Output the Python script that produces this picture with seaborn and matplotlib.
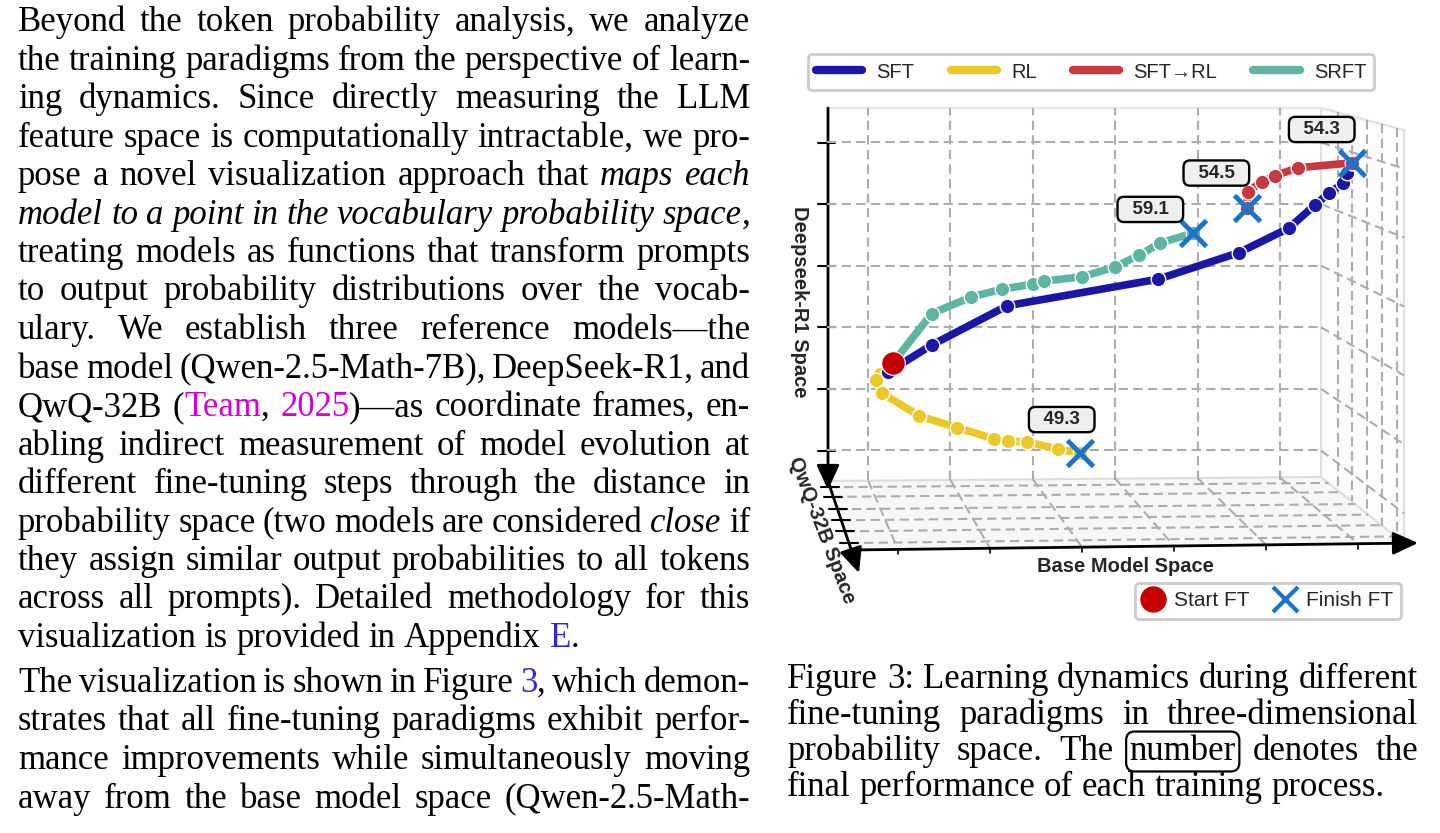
import re
import matplotlib
matplotlib.use("Agg")
import matplotlib.pyplot as plt
from matplotlib.lines import Line2D
from matplotlib.patches import Polygon
import seaborn as sns

# ---- data (back-wall units: Base Model Space x, Deepseek-R1 Space y) ----
series_names = ["SFT", "RL", "SFT→RL", "SRFT"]
series_colors = ["#1b17a6", "#ebc92b", "#c8383f", "#5eb5a3"]

sft_x = [0.24, 0.77, 1.69, 3.52, 4.50, 5.11, 5.43, 5.60, 5.77, 5.81, 5.88]
sft_y = [1.27, 1.71, 2.35, 2.78, 3.21, 3.61, 3.99, 4.18, 4.34, 4.50, 4.67]

rl_x = [0.30, 0.14, 0.09, 0.17, 0.62, 1.08, 1.53, 1.70, 1.93, 2.31, 2.57]
rl_y = [1.42, 1.24, 1.14, 0.93, 0.56, 0.37, 0.19, 0.15, 0.14, 0.02, -0.04]

sftrl_x = [4.60, 4.61, 4.78, 4.94, 5.22, 5.88]
sftrl_y = [3.94, 4.20, 4.36, 4.46, 4.59, 4.67]

srft_x = [0.30, 0.77, 1.25, 1.63, 2.00, 2.14, 2.60, 3.00, 3.29, 3.55, 3.95]
srft_y = [1.42, 2.22, 2.49, 2.62, 2.70, 2.75, 2.82, 2.98, 3.17, 3.37, 3.53]

start_x = [0.30]
start_y = [1.42]
finish_x = [3.95, 4.60, 5.88, 2.57]
finish_y = [3.53, 3.94, 4.67, -0.04]
finish_scores = ["59.1", "54.5", "54.3", "49.3"]

axis_names = ["Base Model Space", "Deepseek-R1 Space", "QwQ-32B Space"]
marker_names = ["Start FT", "Finish FT"]

body_lines = [
    "Beyond the token probability analysis, we analyze",
    "the training paradigms from the perspective of learn-",
    "ing dynamics. Since directly measuring the LLM",
    "feature space is computationally intractable, we pro-",
    "pose a novel visualization approach that [i:maps] [i:each]",
    "[i:model] [i:to] [i:a] [i:point] [i:in] [i:the] [i:vocabulary] [i:probability] [i:space],",
    "treating models as functions that transform prompts",
    "to output probability distributions over the vocab-",
    "ulary. We establish three reference models—the",
    "base model (Qwen-2.5-Math-7B), DeepSeek-R1, and",
    "QwQ-32B ([m:Team], [m:2025])—as coordinate frames, en-",
    "abling indirect measurement of model evolution at",
    "different fine-tuning steps through the distance in",
    "probability space (two models are considered [i:close] if",
    "they assign similar output probabilities to all tokens",
    "across all prompts). Detailed methodology for this",
    "visualization is provided in Appendix [b:E].",
]
body_lines2 = [
    "The visualization is shown in Figure [b:3], which demon-",
    "strates that all fine-tuning paradigms exhibit perfor-",
    "mance improvements while simultaneously moving",
    "away from the base model space (Qwen-2.5-Math-",
]
caption_lines = [
    "Figure 3: Learning dynamics during different",
    "fine-tuning paradigms in three-dimensional",
    "probability space. The [x:number] denotes the",
    "final performance of each training process.",
]

# ---- style ----
sns.set_style("white")
plt.rcParams["font.family"] = ["Liberation Sans", "DejaVu Sans"]
SERIF = ["Liberation Serif", "DejaVu Serif"]
BODY_SIZE = 25
GRID = "#adadad"

fig = plt.figure(figsize=(14.4, 8.33), dpi=100)
ov = fig.add_axes([0, 0, 1, 1], zorder=0)
ov.set_xlim(0, 1440)
ov.set_ylim(833, 0)
ov.axis("off")
renderer = fig.canvas.get_renderer()

# ---- justified text ----
TOKEN = re.compile(r"\[([mbix]):([^\]]+)\]|([^\[]+)")


def put_line(x0, x1, y, line, justify):
    words = line.split(" ")
    word_arts = []
    for w in words:
        arts = []
        for sty, styled, plain in TOKEN.findall(w):
            kw = dict(fontsize=BODY_SIZE, family=SERIF, va="baseline", ha="left", color="black")
            if sty == "i":
                kw["fontstyle"] = "italic"
            elif sty == "m":
                kw["color"] = "#d200d2"
            elif sty == "b":
                kw["color"] = "#2b2bcf"
            elif sty == "x":
                kw["bbox"] = dict(boxstyle="round,pad=0.1,rounding_size=0.25", fc="none", ec="black", lw=1.6)
            arts.append(ov.text(0, y, styled if sty else plain, **kw))
        word_arts.append(arts)
    widths = [[a.get_window_extent(renderer).width for a in arts] for arts in word_arts]
    total = sum(sum(ws) for ws in widths)
    gap = 0.25 * BODY_SIZE * 100 / 72
    if justify and len(words) > 1:
        gap = (x1 - x0 - total) / (len(words) - 1)
    x = x0
    for arts, ws in zip(word_arts, widths):
        for a, wd in zip(arts, ws):
            a.set_x(x)
            x += wd
        x += gap


for i, line in enumerate(body_lines):
    put_line(18, 750, 31 + i * 38.5, line, i < len(body_lines) - 1)
for i, line in enumerate(body_lines2):
    put_line(18, 750, 692 + i * 38.5, line, True)
for i, line in enumerate(caption_lines):
    put_line(787, 1418, 688 + i * 36, line, i < len(caption_lines) - 1)

# ---- pseudo-3D box: floor and right wall ----
def floor_pt(u, t):
    f = (u + 0.5) / 6
    xb, yb = 827 + f * 494, 481 - f * 4
    xf, yf = 852 + f * 552, 550 - f * 7
    return xb + (xf - xb) * t, yb + (yf - yb) * t


dash = (0, (4.5, 2.5))
ov.add_patch(Polygon([(827, 481), (1321, 477), (1404, 543), (852, 550)],
                     closed=True, fc="#f7f7f7", ec="#dcdcdc", lw=1.5, zorder=1))
ov.add_patch(Polygon([(1321, 108), (1404, 130), (1404, 543), (1321, 477)],
                     closed=True, fc="#fcfcfc", ec="#e0e0e0", lw=1.5, zorder=1))
ov.plot([827, 1321], [108, 108], color="#e6e6e6", lw=1.5, zorder=1)

for t in [0.09, 0.23, 0.41, 0.57, 0.73, 0.90]:
    (xa, ya), (xb, yb) = floor_pt(-0.5, t), floor_pt(5.5, t)
    ov.plot([xa, xb], [ya, yb], color=GRID, lw=1.5, ls=dash, zorder=2)
for k in range(6):
    (xa, ya), (xb, yb) = floor_pt(k, 0), floor_pt(k, 1)
    ov.plot([xa, xb], [ya, yb], color=GRID, lw=1.5, ls=dash, zorder=2)
    ov.plot([xb, xb], [yb, yb + 5], color="black", lw=1.2, zorder=3)

for k in range(6):
    yb = 450.5 - 61.6 * k
    yf = 130 + (yb - 108) * 1.119
    ov.plot([1321, 1404], [yb, yf], color=GRID, lw=1.5, ls=dash, zorder=2)
for t in [0.2, 0.37, 0.55, 0.74, 0.92]:
    x = 1321 + 83 * t
    ov.plot([x, x], [108 + 22 * t, 477 + 66 * t], color=GRID, lw=1.5, ls=dash, zorder=2)

# ---- axes arrows ----
arrow = dict(arrowstyle="-|>,head_length=0.7,head_width=0.32", color="black", lw=2,
             mutation_scale=22, shrinkA=0, shrinkB=0)
ov.annotate("", xy=(828, 490), xytext=(828, 108), arrowprops=arrow, zorder=5)
ov.annotate("", xy=(1418, 543), xytext=(852, 550), arrowprops=arrow, zorder=5)
ov.annotate("", xy=(859, 573), xytext=(828, 481), arrowprops=arrow, zorder=5)
for k in range(6):
    y = 450.5 - 61.6 * k
    ov.plot([818, 835], [y, y], color="black", lw=1.5, zorder=5)
for t in [0.09, 0.23, 0.41, 0.57, 0.73, 0.90]:
    y = 481 + 69 * t
    x = 828 + (y - 481) * 31 / 92
    ov.plot([x - 9, x + 9], [y, y], color="black", lw=1.5, zorder=5)

ov.text(800, 302, axis_names[1], rotation=-90, ha="center", va="center",
        fontsize=14.5, fontweight="bold")
ov.text(1125, 566, axis_names[0], ha="center", va="center", fontsize=14.5, fontweight="bold")
ov.text(822, 530, axis_names[2], rotation=-69, ha="center", va="center",
        rotation_mode="anchor", fontsize=14.5, fontweight="bold")

# ---- data axes (back wall) ----
ax = fig.add_axes([827 / 1440, 1 - 480 / 833, 494 / 1440, 372 / 833], zorder=2)
ax.patch.set_alpha(0)
ax.set_xlim(-0.5, 5.5)
ax.set_ylim(-0.48, 5.56)
ax.set_xticks(range(6))
ax.set_yticks(range(6))
ax.tick_params(length=0, labelleft=False, labelbottom=False)
ax.grid(True, color=GRID, lw=1.5, ls=dash)
ax.set_axisbelow(True)
sns.despine(ax=ax, left=True, bottom=True)

paths = [(srft_x, srft_y, 3), (rl_x, rl_y, 3), (sft_x, sft_y, 4), (sftrl_x, sftrl_y, 4)]
path_colors = [series_colors[3], series_colors[1], series_colors[0], series_colors[2]]
for (px, py, z), c in zip(paths, path_colors):
    sns.lineplot(x=px, y=py, sort=False, estimator=None, color=c, lw=5.5, marker="o",
                 markersize=10.5, markeredgecolor="white", markeredgewidth=1.0,
                 clip_on=False, zorder=z, ax=ax)

ax.plot(start_x, start_y, "o", color="#c40000", markersize=17, markeredgecolor="white",
        markeredgewidth=0.8, clip_on=False, zorder=8)
ax.plot(finish_x, finish_y, "x", color="#1a75c9", markersize=19, markeredgewidth=3.5,
        ls="none", clip_on=False, zorder=9)

label_offsets = [(-31, 17), (-22, 25), (-22, 24), (-13, 24)]
for fx, fy, s, off in zip(finish_x, finish_y, finish_scores, label_offsets):
    ax.annotate("  " + s + "  ", xy=(fx, fy), xytext=off, textcoords="offset points",
                ha="center", va="center", fontsize=13.5, fontweight="bold",
                annotation_clip=False, zorder=10,
                bbox=dict(boxstyle="round,pad=0.22,rounding_size=0.35", fc="#efefef",
                          ec="black", lw=1.7))

# ---- legends ----
handles = [Line2D([], [], color=c, lw=6, solid_capstyle="round") for c in series_colors]
leg = fig.legend(handles, series_names, loc="center", bbox_to_anchor=(1091 / 1440, 1 - 72 / 833),
                 ncol=4, fontsize=14.5, handlelength=2.3, handletextpad=0.7, columnspacing=1.8,
                 borderpad=0.4, fancybox=True, framealpha=1)
leg.get_frame().set_edgecolor("#cccccc")
leg.get_frame().set_linewidth(2)

mk = [Line2D([], [], marker="o", color="#c40000", ls="none", markersize=18),
      Line2D([], [], marker="x", color="#1a75c9", ls="none", markersize=18, markeredgewidth=3)]
leg2 = fig.legend(mk, marker_names, loc="center", bbox_to_anchor=(1268 / 1440, 1 - 601 / 833),
                  ncol=2, fontsize=15, handlelength=1.0, handletextpad=0.5, columnspacing=1.2,
                  borderpad=0.4, fancybox=True, framealpha=1)
leg2.get_frame().set_edgecolor("#cccccc")
leg2.get_frame().set_linewidth(2)

fig.savefig("out.png", dpi=100)
